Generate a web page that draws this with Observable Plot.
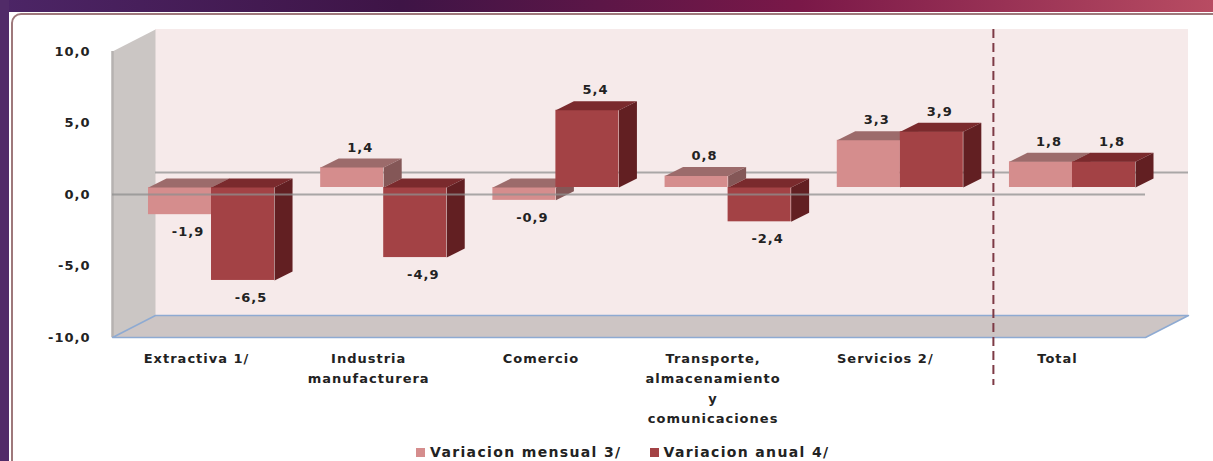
<!DOCTYPE html>
<html><head><meta charset="utf-8">
<script src="https://cdn.jsdelivr.net/npm/d3@7"></script>
<script src="https://cdn.jsdelivr.net/npm/@observablehq/plot@0.6"></script>
<style>
html,body{margin:0;padding:0;background:#fff;}
#page{position:relative;width:1213px;height:461px;overflow:hidden;background:#fff;}
#band{position:absolute;left:0;top:0;width:1213px;height:12px;background:linear-gradient(90deg,#4c2566 0%,#3e1446 33%,#7a1848 66%,#b84c62 100%);}
#leftband{position:absolute;left:0;top:0;width:9px;height:461px;background:#512b68;}
#panel{position:absolute;left:11px;top:13px;width:1212px;height:480px;border:2px solid #9e787b;border-radius:10px;box-sizing:border-box;background:#fff;}
#chart{position:absolute;left:0;top:0;}
#legend{position:absolute;left:416px;top:444px;display:flex;align-items:center;font-family:"DejaVu Sans",sans-serif;font-weight:bold;font-size:14px;letter-spacing:1.35px;color:#222;}
#legend .item{display:flex;align-items:center;margin-right:28px;}
#legend .sw{width:9px;height:9px;margin-right:5px;}
</style></head>
<body><div id="page"><div id="band"></div><div id="leftband"></div><div id="panel"></div><div id="chart"></div><div id="legend"></div></div>
<script>
const categories = ["Extractiva 1/", "Industria\nmanufacturera", "Comercio", "Transporte,\nalmacenamiento\ny\ncomunicaciones", "Servicios 2/", "Total"];
const mensual = [-1.9, 1.4, -0.9, 0.8, 3.3, 1.8];
const anual = [-6.5, -4.9, 5.4, -2.4, 3.9, 1.8];
const seriesNames = ["Variacion mensual 3/", "Variacion anual 4/"];
const yTicks = [-10, -5, 0, 5, 10];

const frontColors = ["#d58d8d", "#a34245"];
const topColors = ["#9c6b6b", "#7a2a2d"];
const sideColors = ["#845757", "#621f22"];

const W = 1213, H = 436;
const mL = 112, mR = 68, mT = 51, mB = H - 337;
const xDomain = [-0.575, 5.424];
const yDomain = [-10, 10];
const kx = (W - mL - mR) / (xDomain[1] - xDomain[0]);
const ky = (H - mT - mB) / (yDomain[1] - yDomain[0]);
const barW = 0.366;
const bd = {x: 18 / kx, y: 9 / ky};   // bar depth in scale units
const wd = {x: 43 / kx, y: 22 / ky};  // wall depth in scale units
const lift = -7;
const fmt = v => v.toFixed(1).replace(".", ",");

const series = [mensual, anual];
const bars = [];
categories.forEach((c, i) => {
  series.forEach((vals, s) => {
    const v = vals[i];
    const x1 = s === 0 ? i - barW : i, x2 = s === 0 ? i : i + barW;
    bars.push({id: i + "-" + s, i, s, v, x1, x2, lo: Math.min(0, v), hi: Math.max(0, v)});
  });
});
const faces = (rows, kind) => rows.flatMap(d => {
  const pts = kind === "top"
    ? [[d.x1, d.hi], [d.x2, d.hi], [d.x2 + bd.x, d.hi + bd.y], [d.x1 + bd.x, d.hi + bd.y]]
    : [[d.x2, d.hi], [d.x2, d.lo], [d.x2 + bd.x, d.lo + bd.y], [d.x2 + bd.x, d.hi + bd.y]];
  return pts.map(([x, y]) => ({id: d.id, x, y}));
});
const sideWall = [[xDomain[0], yDomain[0]], [xDomain[0], yDomain[1]], [xDomain[0] + wd.x, yDomain[1] + wd.y], [xDomain[0] + wd.x, yDomain[0] + wd.y]].map(([x, y]) => ({x, y}));
const floor = [[xDomain[0], yDomain[0]], [xDomain[1], yDomain[0]], [xDomain[1] + wd.x, yDomain[0] + wd.y], [xDomain[0] + wd.x, yDomain[0] + wd.y]].map(([x, y]) => ({x, y}));

const barMarks = [0, 1].flatMap(s => {
  const rows = bars.filter(d => d.s === s);
  return [
    Plot.rect(rows, {x1: "x1", x2: "x2", y1: "lo", y2: "hi", fill: frontColors[s], dy: lift}),
    Plot.line(faces(rows, "top"), {x: "x", y: "y", z: "id", fill: topColors[s], stroke: "none", curve: "linear-closed", dy: lift}),
    Plot.line(faces(rows, "side"), {x: "x", y: "y", z: "id", fill: sideColors[s], stroke: "none", curve: "linear-closed", dy: lift})
  ];
});

const cats = categories.map((c, i) => ({c, i}));

const chart = Plot.plot({
  width: W, height: H,
  marginLeft: mL, marginRight: mR, marginTop: mT, marginBottom: mB,
  style: {background: "transparent", fontFamily: "'DejaVu Sans', sans-serif", fontSize: "13px", fontWeight: "bold", color: "#222", letterSpacing: "1px", overflow: "visible"},
  x: {domain: xDomain, axis: null},
  y: {domain: yDomain, ticks: yTicks, tickFormat: fmt, tickSize: 0, tickPadding: 22, label: null},
  marks: [
    Plot.rect([0], {x1: xDomain[0] + wd.x, x2: xDomain[1] + wd.x, y1: yDomain[0] + wd.y, y2: yDomain[1] + wd.y, fill: "#f6eaea"}),
    Plot.line(sideWall, {x: "x", y: "y", fill: "#cbc6c4", stroke: "none", curve: "linear-closed"}),
    Plot.ruleX([xDomain[0]], {y1: yDomain[0], y2: yDomain[1], stroke: "#b6b2b1", strokeWidth: 2.5}),
    Plot.line(floor, {x: "x", y: "y", fill: "#cdc5c4", stroke: "#8eaad2", strokeWidth: 1.5, curve: "linear-closed"}),
    Plot.ruleY([wd.y], {x1: xDomain[0] + wd.x, x2: xDomain[1] + wd.x, stroke: "#aaa7a7", strokeWidth: 2}),
    ...barMarks,
    Plot.ruleY([0], {x1: xDomain[0], x2: xDomain[1], stroke: "#8f8f8f", strokeOpacity: 0.75, strokeWidth: 2}),
    Plot.ruleX([4.5], {y1: yDomain[1] + wd.y, y2: yDomain[0], insetBottom: -48, dx: 7, stroke: "#7d3a45", strokeWidth: 2, strokeDasharray: "9,5"}),
    Plot.text(bars.filter(d => d.v >= 0), {x: d => (d.x1 + d.x2) / 2, y: "v", text: d => fmt(d.v), dx: 8, dy: -27, fill: "#222"}),
    Plot.text(bars.filter(d => d.v < 0), {x: d => (d.x1 + d.x2) / 2, y: "v", text: d => fmt(d.v), dx: 8, dy: 10, fill: "#222"}),
    Plot.text(cats, {x: "i", y: yDomain[0], text: "c", dx: -15, dy: 11, lineAnchor: "top", lineHeight: 1.55, fill: "#222"})
  ]
});
document.getElementById("chart").appendChild(chart);

const legend = document.getElementById("legend");
seriesNames.forEach((n, s) => {
  const it = document.createElement("div"); it.className = "item";
  const sw = document.createElement("div"); sw.className = "sw"; sw.style.background = frontColors[s];
  const t = document.createElement("span"); t.textContent = n;
  it.appendChild(sw); it.appendChild(t); legend.appendChild(it);
});
</script></body></html>
